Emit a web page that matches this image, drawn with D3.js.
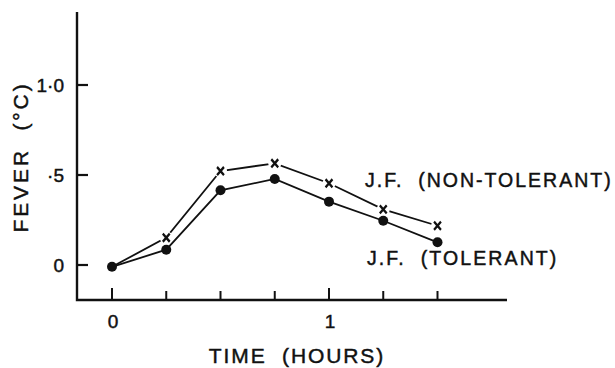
<!DOCTYPE html>
<html>
<head>
<meta charset="utf-8">
<script src="https://cdn.jsdelivr.net/npm/d3@7"></script>
<style>
  body { margin: 0; background: #fff; }
  text { font-family: "Liberation Sans", Arial, sans-serif; fill: #111; stroke: #111; stroke-width: 0.45; }
</style>
</head>
<body>
<div id="chart"></div>
<script>
  const hours = [0, 0.25, 0.5, 0.75, 1, 1.25, 1.5];
  const tolerant = [-0.01, 0.085, 0.415, 0.478, 0.352, 0.246, 0.126];
  const nonTolerant = [-0.01, 0.152, 0.522, 0.565, 0.454, 0.309, 0.218];
  const yTicks = [0, 0.5, 1.0];
  const yTickLabels = ["0", "·5", "1·0"];
  const xMinor = [0, 0.25, 0.5, 0.75, 1, 1.25, 1.5];
  const xMajor = [0, 1];

(function() {
  const width = 615, height = 368;
  const axLeft = 77, axRight = 507, axTop = 12, axBottom = 300;

  const svg = d3.select("#chart")
    .append("svg")
      .attr("width", width)
      .attr("height", height);

  const x = d3.scaleLinear()
    .domain([0, 1])
    .range([112, 329]);

  const y = d3.scaleLinear()
    .domain([0, 1])
    .range([265, 85]);

  // axes drawn by hand, old figure style
  svg.append("path")
    .attr("d", `M${axLeft},${axTop}V${axBottom}H${axRight}`)
    .attr("fill", "none")
    .attr("stroke", "#111")
    .attr("stroke-width", 2.4);

  svg.selectAll(".ytick")
    .data(yTicks)
    .enter().append("line")
      .attr("x1", axLeft)
      .attr("x2", axLeft + 11)
      .attr("y1", d => y(d))
      .attr("y2", d => y(d))
      .attr("stroke", "#111")
      .attr("stroke-width", 2.2);

  svg.selectAll(".ylab")
    .data(yTicks)
    .enter().append("text")
      .attr("x", 64)
      .attr("y", d => y(d))
      .attr("dy", "0.36em")
      .attr("text-anchor", "end")
      .attr("font-size", 19)
      .text((d, i) => yTickLabels[i]);

  svg.selectAll(".xtick")
    .data(xMinor)
    .enter().append("line")
      .attr("x1", d => x(d))
      .attr("x2", d => x(d))
      .attr("y1", axBottom)
      .attr("y2", d => xMajor.includes(d) ? axBottom - 12 : axBottom - 9)
      .attr("stroke", "#111")
      .attr("stroke-width", 2);

  svg.selectAll(".xlab")
    .data(xMajor)
    .enter().append("text")
      .attr("x", d => x(d) + 1)
      .attr("y", 321)
      .attr("dy", "0.36em")
      .attr("text-anchor", "middle")
      .attr("font-size", 19)
      .text(d => d);

  svg.append("text")
    .attr("x", 297)
    .attr("y", 355)
    .attr("dy", "0.36em")
    .attr("text-anchor", "middle")
    .attr("font-size", 21)
    .attr("letter-spacing", 1.9)
    .attr("xml:space", "preserve")
    .text("TIME  (HOURS)");

  svg.append("text")
    .attr("transform", "translate(20,157) rotate(-90)")
    .attr("dy", "0.36em")
    .attr("text-anchor", "middle")
    .attr("font-size", 21)
    .attr("letter-spacing", 2.9)
    .attr("xml:space", "preserve")
    .text("FEVER  (°C)");

  const line = d3.line()
    .x((d, i) => x(hours[i]))
    .y(d => y(d));

  svg.append("path")
    .datum(nonTolerant)
    .attr("d", line)
    .attr("fill", "none")
    .attr("stroke", "#111")
    .attr("stroke-width", 1.8);

  svg.append("path")
    .datum(tolerant)
    .attr("d", line)
    .attr("fill", "none")
    .attr("stroke", "#111")
    .attr("stroke-width", 1.8);

  // gaps in the line around each cross
  const crossData = nonTolerant.map((v, i) => ({ h: hours[i], v })).slice(1);

  svg.selectAll(".gap")
    .data(crossData)
    .enter().append("circle")
      .attr("cx", d => x(d.h))
      .attr("cy", d => y(d.v))
      .attr("r", 6.5)
      .attr("fill", "#fff");

  svg.selectAll(".cross")
    .data(crossData)
    .enter().append("path")
      .attr("transform", d => `translate(${x(d.h)},${y(d.v)}) scale(0.85,1)`)
      .attr("d", d3.symbol(d3.symbolX, 45))
      .attr("fill", "none")
      .attr("stroke", "#111")
      .attr("stroke-width", 2.6);

  svg.selectAll(".dot")
    .data(tolerant)
    .enter().append("circle")
      .attr("cx", (d, i) => x(hours[i]))
      .attr("cy", d => y(d))
      .attr("r", 5)
      .attr("fill", "#111");

  svg.append("text")
    .attr("x", 365)
    .attr("y", 180)
    .attr("dy", "0.36em")
    .attr("font-size", 19.5)
    .attr("letter-spacing", 2)
    .attr("xml:space", "preserve")
    .text("J.F.  (NON-TOLERANT)");

  svg.append("text")
    .attr("x", 367)
    .attr("y", 258)
    .attr("dy", "0.36em")
    .attr("font-size", 19.5)
    .attr("letter-spacing", 2.1)
    .attr("xml:space", "preserve")
    .text("J.F.  (TOLERANT)");
})();
</script>
</body>
</html>
